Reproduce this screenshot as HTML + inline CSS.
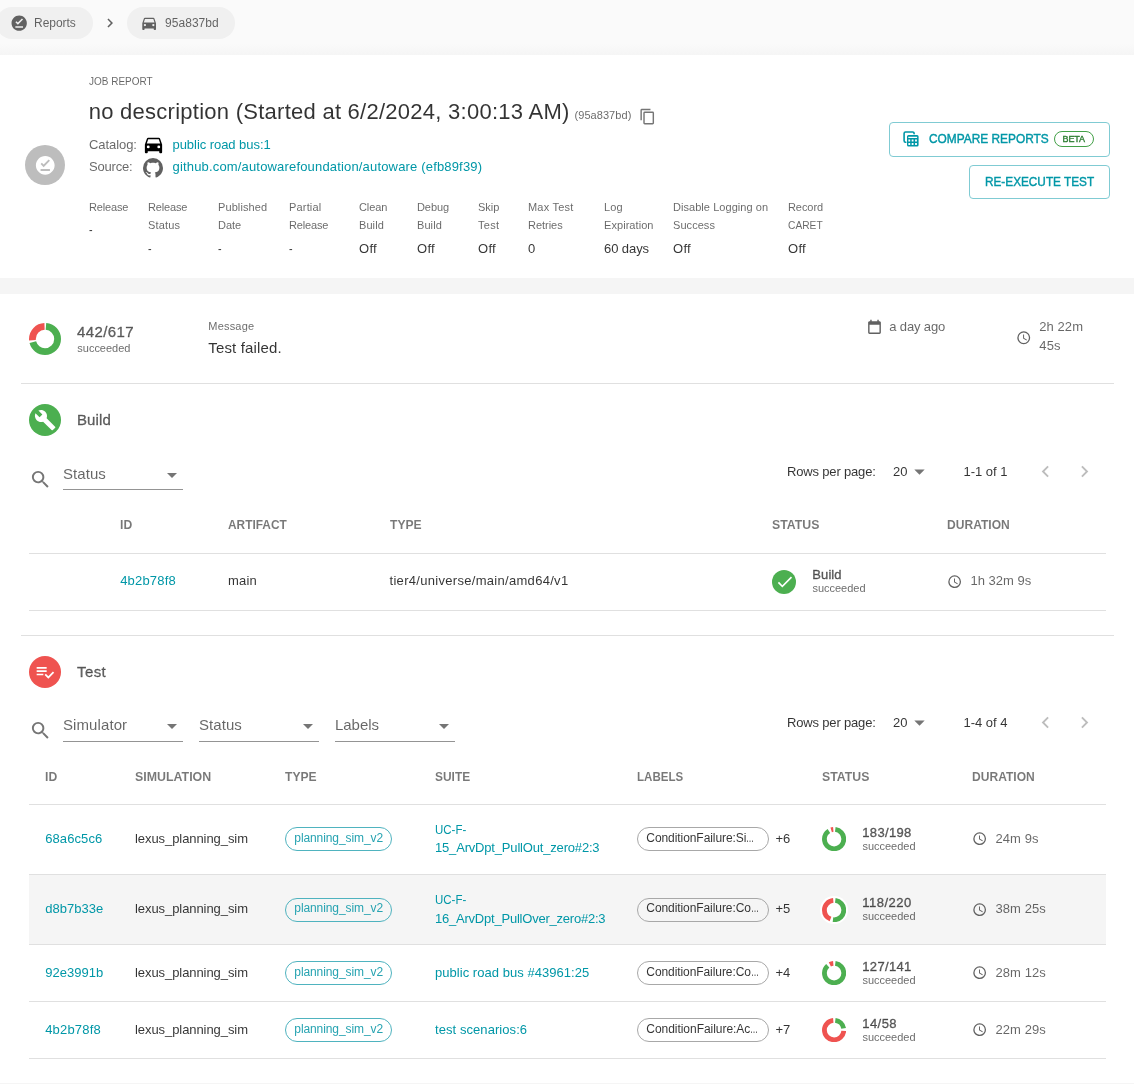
<!DOCTYPE html>
<html lang="en">
<head>
<meta charset="utf-8">
<title>Job Report</title>
<style>
*{box-sizing:border-box;margin:0;padding:0}
html,body{width:1134px;height:1084px;overflow:hidden}
body{position:relative;background:#f5f5f5;font-family:"Liberation Sans",sans-serif;font-size:13px;color:rgba(0,0,0,.8);-webkit-font-smoothing:antialiased}
.abs,.t,.i{position:absolute}
.t{white-space:nowrap;line-height:20px;height:20px;transform-origin:0 50%}
.i{display:block}
.tl{display:inline-block;transform-origin:0 50%;letter-spacing:0}
.g{color:rgba(0,0,0,.6)}
.g2{color:rgba(0,0,0,.64)}
.h{color:rgba(0,0,0,.53)}
.a,.bt{color:#0097a7;text-decoration:none}
.a2{color:#26a3b1}
.b{font-weight:bold}
.m{-webkit-text-stroke:.36px currentColor}
.s9{font-size:9px}
.s10{font-size:10px}
.s11{font-size:11px}
.s12{font-size:12px}
.s13{font-size:13px}
.s14{font-size:14px}
.s15{font-size:15px}
.s16{font-size:16px}
.s22{font-size:22px}
.hl{position:absolute;height:1px;background:rgba(0,0,0,.12)}
.chip{position:absolute;height:32px;border-radius:16px;background:#f0f0f0}
.btn{position:absolute;border:1px solid #80cbd3;border-radius:4px;background:#fff}
.oc{position:absolute;height:24px;border-radius:12px;border:1px solid #4fb3bf}
.lc{position:absolute;height:24px;border-radius:12px;border:1px solid #a8a8a8}
.circ{position:absolute;border-radius:50%}
</style>
</head>
<body>
<!-- breadcrumb bar -->
<div class="abs" id="bar" style="left:0;top:0;width:1134px;height:55px;background:linear-gradient(#fafafa 0,#fafafa 44px,#f5f5f5 55px)"></div>
<!-- header card -->
<div class="abs" id="card1" style="left:0;top:55px;width:1134px;height:223px;background:#fff"></div>
<!-- main card -->
<div class="abs" id="card2" style="left:0;top:294px;width:1134px;height:789px;background:#fff"></div>

<div id="crumbs">
<div class="chip" style="left:-4px;top:7px;width:97px"></div>
<svg class="i" style="left:10.4px;top:14.1px" width="18.4" height="18.4" viewBox="0 0 24 24"><path fill="#616161" d="M12 2C6.5 2 2 6.5 2 12S6.5 22 12 22 22 17.5 22 12 17.5 2 12 2M17 18H7V16H17V18M10.3 14L7 10.7L8.4 9.3L10.3 11.2L15.6 5.9L17 7.3L10.3 14Z"/></svg>
<span class="t s12 g" style="left:34px;top:13px;letter-spacing:-0.03px">Reports</span>
<svg class="i" style="left:101px;top:14.3px" width="18" height="18" viewBox="0 0 24 24"><path fill="#616161" d="M8.59,16.58L13.17,12L8.59,7.41L10,6L16,12L10,18L8.59,16.58Z"/></svg>
<div class="chip" style="left:127px;top:7px;width:108px"></div>
<svg class="i" style="left:139.85px;top:14.05px" width="18.3" height="18.3" viewBox="0 0 24 24"><path fill="#616161" d="M5,11L6.5,6.5H17.5L19,11M17.5,16A1.5,1.5 0 0,1 16,14.5A1.5,1.5 0 0,1 17.5,13A1.5,1.5 0 0,1 19,14.5A1.5,1.5 0 0,1 17.5,16M6.5,16A1.5,1.5 0 0,1 5,14.5A1.5,1.5 0 0,1 6.5,13A1.5,1.5 0 0,1 8,14.5A1.5,1.5 0 0,1 6.5,16M18.92,6C18.72,5.42 18.16,5 17.5,5H6.5C5.84,5 5.28,5.42 5.08,6L3,12V20A1,1 0 0,0 4,21H5A1,1 0 0,0 6,20V19H18V20A1,1 0 0,0 19,21H20A1,1 0 0,0 21,20V12L18.92,6Z"/></svg>
<span class="t s12 g" style="left:165px;top:13px;letter-spacing:0.05px">95a837bd</span>
</div>
<div id="head">
<div class="circ" style="left:25px;top:145px;width:40px;height:40px;background:#bdbdbd"></div>
<svg class="i" style="left:33.95px;top:153.95px" width="22.5" height="22.5" viewBox="0 0 24 24"><path fill="#fff" d="M12 2C6.5 2 2 6.5 2 12S6.5 22 12 22 22 17.5 22 12 17.5 2 12 2M17 18H7V16H17V18M10.3 14L7 10.7L8.4 9.3L10.3 11.2L15.6 5.9L17 7.3L10.3 14Z"/></svg>
<span class="t s11 g" style="left:89px;top:71px;transform:scaleX(0.9084)">JOB REPORT</span>
<span class="t s22" style="left:88.7px;top:102px;letter-spacing:0.26px">no description (Started at 6/2/2024, 3:00:13 AM)</span>
<span class="t s11 g" style="left:574.5px;top:105px;letter-spacing:0.06px">(95a837bd)</span>
<svg class="i" style="left:638.8px;top:107.8px" width="17.2" height="17.2" viewBox="0 0 24 24"><path fill="#757575" d="M19,21H8V7H19M19,5H8A2,2 0 0,0 6,7V21A2,2 0 0,0 8,23H19A2,2 0 0,0 21,21V7A2,2 0 0,0 19,5M16,1H4A2,2 0 0,0 2,3V17H4V3H16V1Z"/></svg>
<span class="t g" style="left:89px;top:135px;letter-spacing:-0.07px">Catalog:</span>
<svg class="i" style="left:141.6px;top:132.6px" width="23" height="23" viewBox="0 0 24 24"><path fill="#000" d="M5,11L6.5,6.5H17.5L19,11M17.5,16A1.5,1.5 0 0,1 16,14.5A1.5,1.5 0 0,1 17.5,13A1.5,1.5 0 0,1 19,14.5A1.5,1.5 0 0,1 17.5,16M6.5,16A1.5,1.5 0 0,1 5,14.5A1.5,1.5 0 0,1 6.5,13A1.5,1.5 0 0,1 8,14.5A1.5,1.5 0 0,1 6.5,16M18.92,6C18.72,5.42 18.16,5 17.5,5H6.5C5.84,5 5.28,5.42 5.08,6L3,12V20A1,1 0 0,0 4,21H5A1,1 0 0,0 6,20V19H18V20A1,1 0 0,0 19,21H20A1,1 0 0,0 21,20V12L18.92,6Z"/></svg>
<a class="t a" style="left:172.5px;top:135px;letter-spacing:-0.05px">public road bus:1</a>
<span class="t g" style="left:89px;top:157px;letter-spacing:-0.2px">Source:</span>
<svg class="i" style="left:141px;top:156.3px" width="24" height="24" viewBox="0 0 24 24"><path fill="#616161" d="M12,2A10,10 0 0,0 2,12C2,16.42 4.87,20.17 8.84,21.5C9.34,21.58 9.5,21.27 9.5,21C9.5,20.77 9.5,20.14 9.5,19.31C6.73,19.91 6.14,17.97 6.14,17.97C5.68,16.81 5.03,16.5 5.03,16.5C4.12,15.88 5.1,15.9 5.1,15.9C6.1,15.97 6.63,16.93 6.63,16.93C7.5,18.45 8.97,18 9.54,17.76C9.63,17.11 9.89,16.67 10.17,16.42C7.95,16.17 5.62,15.31 5.62,11.5C5.62,10.39 6,9.5 6.65,8.79C6.55,8.54 6.2,7.5 6.75,6.15C6.75,6.15 7.59,5.88 9.5,7.17C10.29,6.95 11.15,6.84 12,6.84C12.85,6.84 13.71,6.95 14.5,7.17C16.41,5.88 17.25,6.15 17.25,6.15C17.8,7.5 17.45,8.54 17.35,8.79C18,9.5 18.38,10.39 18.38,11.5C18.38,15.32 16.04,16.16 13.81,16.41C14.17,16.72 14.5,17.33 14.5,18.26C14.5,19.6 14.5,20.68 14.5,21C14.5,21.27 14.66,21.59 15.17,21.5C19.14,20.16 22,16.42 22,12A10,10 0 0,0 12,2Z"/></svg>
<a class="t a" style="left:172.5px;top:157px;letter-spacing:0.17px">github.com/autowarefoundation/autoware (efb89f39)</a>
<span class="t s11 g" style="left:89px;top:197px;letter-spacing:-0.15px">Release</span>
<span class="t" style="left:89px;top:220px;transform:scaleX(0.8273)">-</span>
<span class="t s11 g" style="left:148px;top:197px;letter-spacing:-0.15px">Release</span>
<span class="t s11 g" style="left:148px;top:215px;letter-spacing:0.14px">Status</span>
<span class="t" style="left:148px;top:239px;transform:scaleX(0.8273)">-</span>
<span class="t s11 g" style="left:218px;top:197px;letter-spacing:0.09px">Published</span>
<span class="t s11 g" style="left:218px;top:215px;letter-spacing:-0.05px">Date</span>
<span class="t" style="left:218px;top:239px;transform:scaleX(0.8273)">-</span>
<span class="t s11 g" style="left:289px;top:197px;letter-spacing:0.17px">Partial</span>
<span class="t s11 g" style="left:289px;top:215px;letter-spacing:-0.15px">Release</span>
<span class="t" style="left:289px;top:239px;transform:scaleX(0.8273)">-</span>
<span class="t s11 g" style="left:359px;top:197px;letter-spacing:-0.11px">Clean</span>
<span class="t s11 g" style="left:359px;top:215px;letter-spacing:0.08px">Build</span>
<span class="t" style="left:359px;top:239px;letter-spacing:0.29px">Off</span>
<span class="t s11 g" style="left:417px;top:197px;letter-spacing:-0.08px">Debug</span>
<span class="t s11 g" style="left:417px;top:215px;letter-spacing:0.08px">Build</span>
<span class="t" style="left:417px;top:239px;letter-spacing:0.29px">Off</span>
<span class="t s11 g" style="left:478px;top:197px;letter-spacing:-0.02px">Skip</span>
<span class="t s11 g" style="left:478px;top:215px;letter-spacing:0.33px">Test</span>
<span class="t" style="left:478px;top:239px;letter-spacing:0.29px">Off</span>
<span class="t s11 g" style="left:528px;top:197px;letter-spacing:0.21px">Max Test</span>
<span class="t s11 g" style="left:528px;top:215px;letter-spacing:-0.02px">Retries</span>
<span class="t" style="left:528px;top:239px;letter-spacing:0.08px">0</span>
<span class="t s11 g" style="left:604px;top:197px;letter-spacing:0.11px">Log</span>
<span class="t s11 g" style="left:604px;top:215px;letter-spacing:0.06px">Expiration</span>
<span class="t" style="left:604px;top:239px;letter-spacing:-0.08px">60 days</span>
<span class="t s11 g" style="left:673px;top:197px;letter-spacing:0.05px">Disable Logging on</span>
<span class="t s11 g" style="left:673px;top:215px;letter-spacing:0.06px">Success</span>
<span class="t" style="left:673px;top:239px;letter-spacing:0.29px">Off</span>
<span class="t s11 g" style="left:788px;top:197px;letter-spacing:-0.07px">Record</span>
<span class="t s11 g" style="left:788px;top:215px;transform:scaleX(0.9288)">CARET</span>
<span class="t" style="left:788px;top:239px;letter-spacing:0.29px">Off</span>
<div class="btn" style="left:889px;top:122px;width:221px;height:35px"></div>
<svg class="i" style="left:903px;top:131px" width="16" height="16" viewBox="0 0 16 16"><path fill="none" stroke="#0097a7" stroke-width="1.6" stroke-linecap="round" d="M11.1 2.7V2.4A1.4 1.4 0 0 0 9.7 1H2.5A1.4 1.4 0 0 0 1.1 2.4V9.8A1.4 1.4 0 0 0 2.5 11.2H2.8"/><path fill="#0097a7" fill-rule="evenodd" d="M5.5 4H14.1A1.5 1.5 0 0 1 15.6 5.5V14A1.5 1.5 0 0 1 14.1 15.5H5.5A1.5 1.5 0 0 1 4 14V5.5A1.5 1.5 0 0 1 5.5 4ZM5.3 5.8H14.1V6.9H5.3ZM5.4 8.6H7.2V10.4H5.4ZM8.7 8.6H10.5V10.4H8.7ZM12.1 8.6H13.9V10.4H12.1ZM5.4 12.1H7.2V13.9H5.4ZM8.7 12.1H10.5V13.9H8.7ZM12.1 12.1H13.9V13.9H12.1Z"/></svg>
<span class="t m bt" style="left:929px;top:128.5px;transform:scaleX(0.9141);-webkit-text-stroke-width:.42px">COMPARE REPORTS</span>
<div class="oc" style="left:1054px;top:131px;width:40px;height:16px;height:16px;border-color:#43a047;border-radius:8px"></div>
<span class="t s9 m" style="left:1062.5px;top:129px;letter-spacing:-0.09px;color:#2e7d32">BETA</span>
<div class="btn" style="left:969px;top:165px;width:141px;height:34px"></div>
<span class="t m bt" style="left:984.5px;top:171.5px;transform:scaleX(0.9062);-webkit-text-stroke-width:.42px">RE-EXECUTE TEST</span>
</div>
<div id="summary">
<svg class="i" style="left:29px;top:322.9px" width="32" height="32" viewBox="-16 -16 32 32"><g transform="rotate(-90)" fill="none" stroke-width="6.8"><circle r="12.6" stroke="#4caf50" stroke-dasharray="54.71 24.45" stroke-dashoffset="-1"/><circle r="12.6" stroke="#ef5350" stroke-dasharray="20.45 58.71" stroke-dashoffset="-57.71"/></g></svg>
<span class="t s15 m g" style="left:77px;top:322px;letter-spacing:0.4px;-webkit-text-stroke-width:.3px">442/617</span>
<span class="t s11 g" style="left:77.3px;top:338px;letter-spacing:-0.01px">succeeded</span>
<span class="t s11 g" style="left:208.3px;top:316px;letter-spacing:0.19px">Message</span>
<span class="t s15" style="left:208.3px;top:337.5px;letter-spacing:0.16px">Test failed.</span>
<svg class="i" style="left:865.9px;top:318.8px" width="17" height="17" viewBox="0 0 24 24"><path fill="#616161" d="M19,19H5V8H19M16,1V3H8V1H6V3H5C3.89,3 3,3.89 3,5V19A2,2 0 0,0 5,21H19A2,2 0 0,0 21,19V5C21,3.89 20.1,3 19,3H18V1"/></svg>
<span class="t g" style="left:889.3px;top:317px;letter-spacing:-0.15px">a day ago</span>
<svg class="i" style="left:1015.55px;top:329.65px" width="15.5" height="15.5" viewBox="0 0 24 24"><path fill="#616161" d="M12,20A8,8 0 0,0 20,12A8,8 0 0,0 12,4A8,8 0 0,0 4,12A8,8 0 0,0 12,20M12,2A10,10 0 0,1 22,12A10,10 0 0,1 12,22C6.47,22 2,17.5 2,12A10,10 0 0,1 12,2M12.5,7V12.25L17,14.92L16.25,16.15L11,13V7H12.5Z"/></svg>
<span class="t g" style="left:1039.3px;top:317px;letter-spacing:0.06px">2h 22m</span>
<span class="t g" style="left:1039.3px;top:336px;letter-spacing:0.12px">45s</span>
<div class="hl" style="left:21px;top:383px;width:1093px"></div>
</div>
<div id="build">
<div class="circ" style="left:29px;top:404px;width:32px;height:32px;background:#4caf50"></div>
<svg class="i" style="left:33.95px;top:408.95px" width="22.3" height="22.3" viewBox="0 0 24 24"><path fill="#fff" d="M22.7,19L13.6,9.9C14.5,7.6 14,4.9 12.1,3C10.1,1 7.1,0.6 4.7,1.7L9,6L6,9L1.6,4.7C0.4,7.1 0.9,10.1 2.9,12.1C4.8,14 7.5,14.5 9.8,13.6L18.9,22.7C19.3,23.1 19.9,23.1 20.3,22.7L22.6,20.4C23.1,20 23.1,19.3 22.7,19Z"/></svg>
<span class="t s15 m g" style="left:77px;top:410px;letter-spacing:0.11px;-webkit-text-stroke-width:.3px">Build</span>
<svg class="i" style="left:28.5px;top:467.7px" width="23" height="23" viewBox="0 0 24 24"><path fill="#757575" d="M9.5,3A6.5,6.5 0 0,1 16,9.5C16,11.11 15.41,12.59 14.44,13.73L14.71,14H15.5L20.5,19L19,20.5L14,15.5V14.71L13.73,14.44C12.59,15.41 11.11,16 9.5,16A6.5,6.5 0 0,1 3,9.5A6.5,6.5 0 0,1 9.5,3M9.5,5C7,5 5,7 5,9.5C5,12 7,14 9.5,14C12,14 14,12 14,9.5C14,7 12,5 9.5,5Z"/></svg>
<span class="t s15 g" style="left:63px;top:464px;letter-spacing:0.06px">Status</span>
<svg class="i" style="left:159.5px;top:463px" width="24" height="24" viewBox="0 0 24 24"><path fill="#757575" d="M7,10L12,15L17,10H7Z"/></svg>
<div class="hl" style="left:63px;top:489px;width:120px;background:rgba(0,0,0,.42)"></div>
<span class="t" style="left:787px;top:461.5px;letter-spacing:-0.17px">Rows per page:</span>
<span class="t" style="left:893px;top:461.5px;letter-spacing:0.08px">20</span>
<svg class="i" style="left:907px;top:459.2px" width="25" height="25" viewBox="0 0 24 24"><path fill="#757575" d="M7,10L12,15L17,10H7Z"/></svg>
<span class="t" style="left:963.5px;top:461.5px;letter-spacing:-0.02px">1-1 of 1</span>
<svg class="i" style="left:1034.2px;top:460.2px" width="23" height="23" viewBox="0 0 24 24"><path fill="#bdbdbd" d="M15.41,16.58L10.83,12L15.41,7.41L14,6L8,12L14,18L15.41,16.58Z"/></svg>
<svg class="i" style="left:1073.2px;top:460.2px" width="23" height="23" viewBox="0 0 24 24"><path fill="#bdbdbd" d="M8.59,16.58L13.17,12L8.59,7.41L10,6L16,12L10,18L8.59,16.58Z"/></svg>
<span class="t b h" style="left:120px;top:515px;transform:scaleX(0.9363)">ID</span>
<span class="t b h" style="left:228px;top:515px;transform:scaleX(0.914)">ARTIFACT</span>
<span class="t b h" style="left:389.5px;top:515px;transform:scaleX(0.9305)">TYPE</span>
<span class="t b h" style="left:772px;top:515px;transform:scaleX(0.9451)">STATUS</span>
<span class="t b h" style="left:947px;top:515px;transform:scaleX(0.9282)">DURATION</span>
<div class="hl" style="left:29px;top:553px;width:1077px"></div>
<a class="t a" style="left:120.2px;top:571px;letter-spacing:0.18px">4b2b78f8</a>
<span class="t" style="left:228px;top:571px;letter-spacing:0.16px">main</span>
<span class="t" style="left:389.5px;top:571px;letter-spacing:0.3px">tier4/universe/main/amd64/v1</span>
<div class="circ" style="left:772px;top:570px;width:24px;height:24px;background:#4caf50"></div>
<svg class="i" style="left:774.65px;top:571.85px" width="19.5" height="19.5" viewBox="0 0 24 24"><path fill="#fff" d="M21,7L9,19L3.5,13.5L4.91,12.09L9,16.17L19.59,5.59L21,7Z"/></svg>
<span class="t m g" style="left:812.3px;top:565px;letter-spacing:0.09px">Build</span>
<span class="t s11 g" style="left:812.4px;top:578px;letter-spacing:-0.01px">succeeded</span>
<svg class="i" style="left:946.75px;top:573.65px" width="15.3" height="15.3" viewBox="0 0 24 24"><path fill="#616161" d="M12,20A8,8 0 0,0 20,12A8,8 0 0,0 12,4A8,8 0 0,0 4,12A8,8 0 0,0 12,20M12,2A10,10 0 0,1 22,12A10,10 0 0,1 12,22C6.47,22 2,17.5 2,12A10,10 0 0,1 12,2M12.5,7V12.25L17,14.92L16.25,16.15L11,13V7H12.5Z"/></svg>
<span class="t g" style="left:970.4px;top:571px;letter-spacing:0.03px">1h 32m 9s</span>
<div class="hl" style="left:29px;top:610px;width:1077px"></div>
<div class="hl" style="left:21px;top:635px;width:1093px"></div>
</div>
<div id="test">
<div class="circ" style="left:29px;top:656px;width:32px;height:32px;background:#ef5350"></div>
<svg class="i" style="left:35px;top:661.6px" width="20" height="20" viewBox="0 0 24 24"><path fill="#fff" d="M14,10H2V12H14V10M14,6H2V8H14V6M2,16H10V14H2V16M21.5,11.5L23,13L16,20L11.5,15.5L13,14L16,17L21.5,11.5Z"/></svg>
<span class="t s15 m g" style="left:77px;top:661.5px;letter-spacing:0.42px;-webkit-text-stroke-width:.3px">Test</span>
<svg class="i" style="left:28.5px;top:719.4px" width="23" height="23" viewBox="0 0 24 24"><path fill="#757575" d="M9.5,3A6.5,6.5 0 0,1 16,9.5C16,11.11 15.41,12.59 14.44,13.73L14.71,14H15.5L20.5,19L19,20.5L14,15.5V14.71L13.73,14.44C12.59,15.41 11.11,16 9.5,16A6.5,6.5 0 0,1 3,9.5A6.5,6.5 0 0,1 9.5,3M9.5,5C7,5 5,7 5,9.5C5,12 7,14 9.5,14C12,14 14,12 14,9.5C14,7 12,5 9.5,5Z"/></svg>
<span class="t s15 g" style="left:63px;top:715px;letter-spacing:0.09px">Simulator</span>
<svg class="i" style="left:159.5px;top:714.4px" width="24" height="24" viewBox="0 0 24 24"><path fill="#757575" d="M7,10L12,15L17,10H7Z"/></svg>
<div class="hl" style="left:63px;top:741px;width:120px;background:rgba(0,0,0,.42)"></div>
<span class="t s15 g" style="left:199px;top:715px;letter-spacing:0.06px">Status</span>
<svg class="i" style="left:295.5px;top:714.4px" width="24" height="24" viewBox="0 0 24 24"><path fill="#757575" d="M7,10L12,15L17,10H7Z"/></svg>
<div class="hl" style="left:199px;top:741px;width:120px;background:rgba(0,0,0,.42)"></div>
<span class="t s15 g" style="left:335px;top:715px;letter-spacing:-0.03px">Labels</span>
<svg class="i" style="left:431.5px;top:714.4px" width="24" height="24" viewBox="0 0 24 24"><path fill="#757575" d="M7,10L12,15L17,10H7Z"/></svg>
<div class="hl" style="left:335px;top:741px;width:120px;background:rgba(0,0,0,.42)"></div>
<span class="t" style="left:787px;top:712.5px;letter-spacing:-0.17px">Rows per page:</span>
<span class="t" style="left:893px;top:712.5px;letter-spacing:0.08px">20</span>
<svg class="i" style="left:907px;top:710.2px" width="25" height="25" viewBox="0 0 24 24"><path fill="#757575" d="M7,10L12,15L17,10H7Z"/></svg>
<span class="t" style="left:963.5px;top:712.5px;letter-spacing:-0.02px">1-4 of 4</span>
<svg class="i" style="left:1034.2px;top:711.2px" width="23" height="23" viewBox="0 0 24 24"><path fill="#bdbdbd" d="M15.41,16.58L10.83,12L15.41,7.41L14,6L8,12L14,18L15.41,16.58Z"/></svg>
<svg class="i" style="left:1073.2px;top:711.2px" width="23" height="23" viewBox="0 0 24 24"><path fill="#bdbdbd" d="M8.59,16.58L13.17,12L8.59,7.41L10,6L16,12L10,18L8.59,16.58Z"/></svg>
<span class="t b h" style="left:45px;top:766.5px;transform:scaleX(0.9363)">ID</span>
<span class="t b h" style="left:135px;top:766.5px;transform:scaleX(0.9533)">SIMULATION</span>
<span class="t b h" style="left:285px;top:766.5px;transform:scaleX(0.9305)">TYPE</span>
<span class="t b h" style="left:435px;top:766.5px;transform:scaleX(0.9176)">SUITE</span>
<span class="t b h" style="left:637px;top:766.5px;transform:scaleX(0.8888)">LABELS</span>
<span class="t b h" style="left:822px;top:766.5px;transform:scaleX(0.9451)">STATUS</span>
<span class="t b h" style="left:972px;top:766.5px;transform:scaleX(0.9282)">DURATION</span>
<div class="hl" style="left:29px;top:804px;width:1077px"></div>
<a class="t a" style="left:45.2px;top:829px;letter-spacing:0.1px">68a6c5c6</a>
<span class="t" style="left:135px;top:829px;letter-spacing:-0.07px">lexus_planning_sim</span>
<div class="oc" style="left:285px;top:827px;width:107px;height:24px"></div>
<span class="t s12 a2" style="left:294.3px;top:828px;letter-spacing:-0.09px">planning_sim_v2</span>
<a class="t a" style="left:435px;top:820px;transform:scaleX(0.8834)">UC-F-</a>
<a class="t a" style="left:435px;top:838px;letter-spacing:-0.18px">15_ArvDpt_PullOut_zero#2:3</a>
<div class="lc" style="left:637px;top:827px;width:132px"></div>
<span class="t s12" style="left:646.3px;top:828px;letter-spacing:-0.07px">ConditionFailure:Si<span class="tl" style="transform:scaleX(0.6693)">…</span></span>
<span class="t" style="left:775.4px;top:829px;letter-spacing:-0.07px">+6</span>
<svg class="i" style="left:822px;top:827px" width="24.2" height="24.2" viewBox="-12.1 -12.1 24.2 24.2"><g transform="rotate(-90)" fill="none" stroke-width="4.8"><circle r="9.7" stroke="#4caf50" stroke-dasharray="53.83 7.12" stroke-dashoffset="-1.25"/><circle r="9.7" stroke="#ef5350" stroke-dasharray="2.12 58.83" stroke-dashoffset="-57.58"/></g></svg>
<span class="t m g" style="left:862.3px;top:823px;letter-spacing:0.34px">183/198</span>
<span class="t s11 g" style="left:862.4px;top:836px;letter-spacing:-0.01px">succeeded</span>
<svg class="i" style="left:971.75px;top:831.15px" width="15.3" height="15.3" viewBox="0 0 24 24"><path fill="#616161" d="M12,20A8,8 0 0,0 20,12A8,8 0 0,0 12,4A8,8 0 0,0 4,12A8,8 0 0,0 12,20M12,2A10,10 0 0,1 22,12A10,10 0 0,1 12,22C6.47,22 2,17.5 2,12A10,10 0 0,1 12,2M12.5,7V12.25L17,14.92L16.25,16.15L11,13V7H12.5Z"/></svg>
<span class="t g" style="left:995.4px;top:829px;letter-spacing:0.1px">24m 9s</span>
<div class="hl" style="left:29px;top:874px;width:1077px"></div>
<div class="abs" style="left:29px;top:875px;width:1077px;height:69px;background:#f5f5f5"></div>
<a class="t a" style="left:45.2px;top:899px;letter-spacing:0.03px">d8b7b33e</a>
<span class="t" style="left:135px;top:899px;letter-spacing:-0.07px">lexus_planning_sim</span>
<div class="oc" style="left:285px;top:897.7px;width:107px;height:24px"></div>
<span class="t s12 a2" style="left:294.3px;top:898px;letter-spacing:-0.09px">planning_sim_v2</span>
<a class="t a" style="left:435px;top:890px;transform:scaleX(0.8834)">UC-F-</a>
<a class="t a" style="left:435px;top:909px;letter-spacing:-0.22px">16_ArvDpt_PullOver_zero#2:3</a>
<div class="lc" style="left:637px;top:897.7px;width:132px"></div>
<span class="t s12" style="left:646.3px;top:898px;letter-spacing:-0.08px">ConditionFailure:Co<span class="tl" style="transform:scaleX(0.6693)">…</span></span>
<span class="t" style="left:775.4px;top:899px;letter-spacing:-0.07px">+5</span>
<div class="circ" style="left:820.3px;top:896px;width:27.6px;height:27.6px;background:#fff"></div>
<svg class="i" style="left:822px;top:897.7px" width="24.2" height="24.2" viewBox="-12.1 -12.1 24.2 24.2"><g transform="rotate(-90)" fill="none" stroke-width="4.8"><circle r="9.7" stroke="#4caf50" stroke-dasharray="30.19 30.76" stroke-dashoffset="-1.25"/><circle r="9.7" stroke="#ef5350" stroke-dasharray="25.76 35.19" stroke-dashoffset="-33.94"/></g></svg>
<span class="t m g" style="left:862.3px;top:893px;letter-spacing:0.48px">118/220</span>
<span class="t s11 g" style="left:862.4px;top:906px;letter-spacing:-0.01px">succeeded</span>
<svg class="i" style="left:971.75px;top:901.85px" width="15.3" height="15.3" viewBox="0 0 24 24"><path fill="#616161" d="M12,20A8,8 0 0,0 20,12A8,8 0 0,0 12,4A8,8 0 0,0 4,12A8,8 0 0,0 12,20M12,2A10,10 0 0,1 22,12A10,10 0 0,1 12,22C6.47,22 2,17.5 2,12A10,10 0 0,1 12,2M12.5,7V12.25L17,14.92L16.25,16.15L11,13V7H12.5Z"/></svg>
<span class="t g" style="left:995.4px;top:899px;letter-spacing:0.1px">38m 25s</span>
<div class="hl" style="left:29px;top:944px;width:1077px"></div>
<a class="t a" style="left:45.2px;top:963px;letter-spacing:0.02px">92e3991b</a>
<span class="t" style="left:135px;top:963px;letter-spacing:-0.07px">lexus_planning_sim</span>
<div class="oc" style="left:285px;top:961px;width:107px;height:24px"></div>
<span class="t s12 a2" style="left:294.3px;top:962px;letter-spacing:-0.09px">planning_sim_v2</span>
<a class="t a" style="left:435px;top:963px;letter-spacing:0.04px">public road bus #43961:25</a>
<div class="lc" style="left:637px;top:961px;width:132px"></div>
<span class="t s12" style="left:646.3px;top:962px;letter-spacing:-0.08px">ConditionFailure:Co<span class="tl" style="transform:scaleX(0.6693)">…</span></span>
<span class="t" style="left:775.4px;top:963px;letter-spacing:-0.07px">+4</span>
<svg class="i" style="left:822px;top:961px" width="24.2" height="24.2" viewBox="-12.1 -12.1 24.2 24.2"><g transform="rotate(-90)" fill="none" stroke-width="4.8"><circle r="9.7" stroke="#4caf50" stroke-dasharray="52.4 8.55" stroke-dashoffset="-1.25"/><circle r="9.7" stroke="#ef5350" stroke-dasharray="3.55 57.4" stroke-dashoffset="-56.15"/></g></svg>
<span class="t m g" style="left:862.3px;top:957px;letter-spacing:0.34px">127/141</span>
<span class="t s11 g" style="left:862.4px;top:970px;letter-spacing:-0.01px">succeeded</span>
<svg class="i" style="left:971.75px;top:965.15px" width="15.3" height="15.3" viewBox="0 0 24 24"><path fill="#616161" d="M12,20A8,8 0 0,0 20,12A8,8 0 0,0 12,4A8,8 0 0,0 4,12A8,8 0 0,0 12,20M12,2A10,10 0 0,1 22,12A10,10 0 0,1 12,22C6.47,22 2,17.5 2,12A10,10 0 0,1 12,2M12.5,7V12.25L17,14.92L16.25,16.15L11,13V7H12.5Z"/></svg>
<span class="t g" style="left:995.4px;top:963px;letter-spacing:0.1px">28m 12s</span>
<div class="hl" style="left:29px;top:1001px;width:1077px"></div>
<a class="t a" style="left:45.2px;top:1020px;letter-spacing:0.18px">4b2b78f8</a>
<span class="t" style="left:135px;top:1020px;letter-spacing:-0.07px">lexus_planning_sim</span>
<div class="oc" style="left:285px;top:1018px;width:107px;height:24px"></div>
<span class="t s12 a2" style="left:294.3px;top:1019px;letter-spacing:-0.09px">planning_sim_v2</span>
<a class="t a" style="left:435px;top:1020px;letter-spacing:0.07px">test scenarios:6</a>
<div class="lc" style="left:637px;top:1018px;width:132px"></div>
<span class="t s12" style="left:646.3px;top:1019px;letter-spacing:-0.04px">ConditionFailure:Ac<span class="tl" style="transform:scaleX(0.6693)">…</span></span>
<span class="t" style="left:775.4px;top:1020px;letter-spacing:-0.07px">+7</span>
<svg class="i" style="left:822px;top:1018px" width="24.2" height="24.2" viewBox="-12.1 -12.1 24.2 24.2"><g transform="rotate(-90)" fill="none" stroke-width="4.8"><circle r="9.7" stroke="#4caf50" stroke-dasharray="12.21 48.74" stroke-dashoffset="-1.25"/><circle r="9.7" stroke="#ef5350" stroke-dasharray="43.74 17.21" stroke-dashoffset="-15.96"/></g></svg>
<span class="t m g" style="left:862.3px;top:1014px;letter-spacing:0.42px">14/58</span>
<span class="t s11 g" style="left:862.4px;top:1027px;letter-spacing:-0.01px">succeeded</span>
<svg class="i" style="left:971.75px;top:1022.15px" width="15.3" height="15.3" viewBox="0 0 24 24"><path fill="#616161" d="M12,20A8,8 0 0,0 20,12A8,8 0 0,0 12,4A8,8 0 0,0 4,12A8,8 0 0,0 12,20M12,2A10,10 0 0,1 22,12A10,10 0 0,1 12,22C6.47,22 2,17.5 2,12A10,10 0 0,1 12,2M12.5,7V12.25L17,14.92L16.25,16.15L11,13V7H12.5Z"/></svg>
<span class="t g" style="left:995.4px;top:1020px;letter-spacing:0.1px">22m 29s</span>
<div class="hl" style="left:29px;top:1058px;width:1077px"></div>
</div>
</body>
</html>
